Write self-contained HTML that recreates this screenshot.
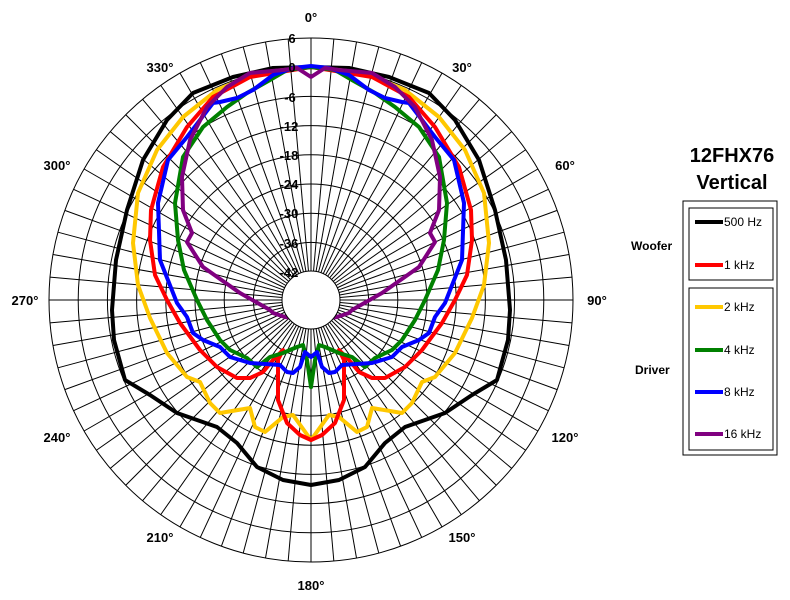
<!DOCTYPE html>
<html><head><meta charset="utf-8"><style>body{margin:0;background:#fff}svg{display:block}text{font-family:"Liberation Sans",sans-serif}</style></head><body>
<svg width="790" height="600" viewBox="0 0 790 600" xmlns="http://www.w3.org/2000/svg">
<g id="grid" stroke="#000" stroke-width="1" fill="none"></g>
<g id="curves" fill="none" stroke-width="4" stroke-linejoin="round" stroke-linecap="round"></g>
<circle cx="311" cy="300" r="29" fill="#fff" stroke="#000" stroke-width="1"/>
<g font-weight="bold" font-size="13" text-anchor="middle" fill="#000">
<text x="311" y="22">0°</text><text x="462" y="72">30°</text><text x="565" y="170">60°</text><text x="597" y="305">90°</text><text x="565" y="442">120°</text><text x="462" y="542">150°</text><text x="311" y="590">180°</text><text x="160" y="542">210°</text><text x="57" y="442">240°</text><text x="25" y="305">270°</text><text x="57" y="170">300°</text><text x="160" y="72">330°</text>
</g>
<g font-weight="bold" font-size="13" text-anchor="middle" fill="#000">
<text x="292" y="43">6</text><text x="292" y="72">0</text><text x="290" y="102">-6</text><text x="289" y="131">-12</text><text x="289" y="160">-18</text><text x="289" y="189">-24</text><text x="289" y="218">-30</text><text x="289" y="248">-36</text><text x="289" y="277">-42</text>
</g>
<g font-weight="bold" fill="#000" text-anchor="middle" font-size="20"><text x="732" y="162">12FHX76</text><text x="732" y="189">Vertical</text></g>
<rect x="683" y="201" width="94" height="254" fill="none" stroke="#000" stroke-width="1"/>
<rect x="689" y="208" width="84" height="72" fill="none" stroke="#000" stroke-width="1"/>
<rect x="689" y="288" width="84" height="162" fill="none" stroke="#000" stroke-width="1"/>
<g stroke-width="4"><line x1="695" y1="222" x2="723" y2="222" stroke="#000"/><line x1="695" y1="265" x2="723" y2="265" stroke="#f00"/><line x1="695" y1="307" x2="723" y2="307" stroke="#ffc800"/><line x1="695" y1="350" x2="723" y2="350" stroke="#008000"/><line x1="695" y1="392" x2="723" y2="392" stroke="#00f"/><line x1="695" y1="434" x2="723" y2="434" stroke="#800080"/></g>
<g font-size="12" fill="#000"><text x="724" y="226">500 Hz</text><text x="724" y="269">1 kHz</text><text x="724" y="311">2 kHz</text><text x="724" y="354">4 kHz</text><text x="724" y="396">8 kHz</text><text x="724" y="438">16 kHz</text>
<text x="631" y="250" font-weight="bold">Woofer</text><text x="635" y="374" font-weight="bold">Driver</text></g>
<script>
var cx=311,cy=300,g=document.getElementById('grid'),ns='http://www.w3.org/2000/svg';
for(var k=0;k<9;k++){var c=document.createElementNS(ns,'circle');c.setAttribute('cx',cx);c.setAttribute('cy',cy);c.setAttribute('r',262-29.2*k);g.appendChild(c);}
for(var a=0;a<360;a+=5){var t=a*Math.PI/180,l=document.createElementNS(ns,'line');l.setAttribute('x1',cx+29*Math.sin(t));l.setAttribute('y1',cy-29*Math.cos(t));l.setAttribute('x2',cx+262*Math.sin(t));l.setAttribute('y2',cy-262*Math.cos(t));g.appendChild(l);}
var C={
'#000':[[311,485],[283,480],[257,467],[237,443],[217,427],[177,413],[150,395],[125,380],[114,340],[112,310],[116,260],[127,210],[143,160],[167,120],[193,93],[233,77],[273,68],[311,67]],
'#ffc800':[[311,440],[293,415],[283,417],[265,432],[255,427],[250,408],[220,413],[210,403],[200,382],[187,377],[167,353],[150,318],[138,285],[133,243],[138,193],[157,150],[183,117],[217,90],[257,73],[311,67]],
'#f00':[[311,440],[300,435],[287,423],[278,400],[278,360],[283,350],[273,360],[263,372],[250,378],[237,378],[217,367],[200,350],[180,323],[167,300],[155,275],[150,240],[151,210],[163,167],[187,127],[213,97],[250,77],[311,67]],
'#008000':[[311,387],[307,360],[303,345],[297,347],[283,353],[270,357],[257,367],[247,358],[230,350],[220,340],[207,320],[197,300],[184,270],[178,240],[175,203],[183,157],[203,127],[227,107],[247,93],[270,80],[287,70],[311,67]],
'#00f':[[311,357],[305,352],[300,367],[293,373],[287,372],[280,365],[250,363],[230,357],[220,347],[203,340],[193,333],[187,317],[177,303],[160,260],[158,203],[168,160],[187,137],[213,103],[220,102],[237,98],[253,90],[273,75],[293,68],[311,66]],
'#800080':[[311,320],[285,317],[273,313],[270,310],[240,293],[203,267],[187,242],[192,233],[183,210],[182,177],[190,140],[207,107],[227,87],[250,73],[283,70],[297,68],[311,77]]};
var cg=document.getElementById('curves');
['#000','#ffc800','#f00','#008000','#00f','#800080'].forEach(function(col){
var seq=C[col].concat(C[col].slice(0,-1).reverse().map(function(q){return [622-q[0],q[1]]}));
var pl=document.createElementNS(ns,'polyline');
pl.setAttribute('points',seq.map(function(q){return q.join(',')}).join(' '));pl.setAttribute('stroke',col);cg.appendChild(pl);});
</script>
</svg>
</body></html>
